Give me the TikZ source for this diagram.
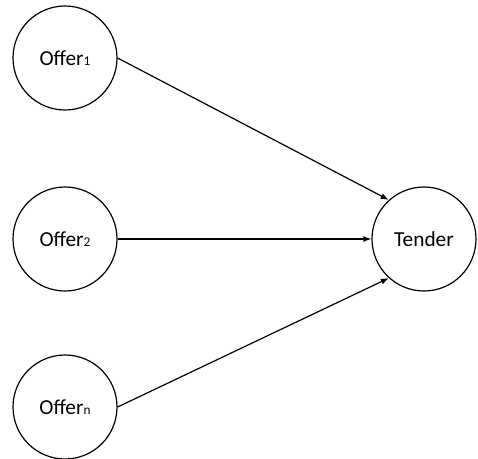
\documentclass[tikz,border=0pt]{standalone}
\usepackage{fontspec}
\setmainfont{Carlito}
\usetikzlibrary{arrows.meta}
\newcommand{\sm}[1]{{\fontsize{10}{12}\selectfont #1}}
\begin{document}
\begin{tikzpicture}[x=0.75pt,y=-0.75pt,
  state/.style={circle,draw,line width=0.9pt,minimum size=78pt,inner sep=0pt,
    font=\fontsize{16}{19}\selectfont},
  link/.style={line width=0.9pt,-{Latex[length=6pt,width=4.5pt]}}]
\useasboundingbox (0,0) rectangle (478,458);
\node[state] (o1) at (65,58) {Offer\sm{1}};
\node[state] (o2) at (65,239) {Offer\sm{2}};
\node[state] (on) at (65,407) {Offer\sm{n}};
\node[state] (t) at (424,239) {Tender};
\draw[link] (o1.east) -- (t.132);
\draw[link] (o2.east) -- (t.west);
\draw[link] (on.east) -- (t.228);
\end{tikzpicture}
\end{document}
